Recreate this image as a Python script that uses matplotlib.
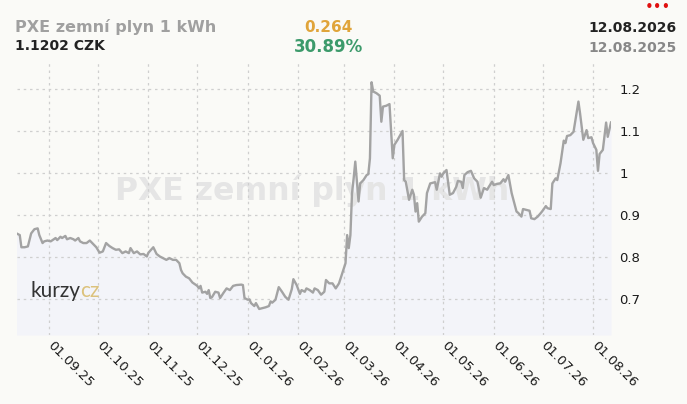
import numpy as np
import pandas as pd
import matplotlib
matplotlib.use('Agg')
import matplotlib.pyplot as plt
import matplotlib.dates as mdates
import matplotlib.transforms as mtransforms

# data: days after the first date, price in CZK
start = pd.Timestamp('2025-08-12')
end = pd.Timestamp('2026-08-12')
days = [0, 2, 3, 5, 7, 9, 11, 13, 14, 16, 17, 19, 21, 24, 25, 27, 28, 30, 31, 33,
        35, 36, 38, 39, 41, 43, 45, 47, 49, 51, 53, 55, 57, 59, 61, 63, 65, 67, 69, 70,
        72, 74, 76, 78, 80, 81, 84, 86, 88, 90, 92, 94, 96, 98, 100, 101, 102, 104, 106, 108,
        111, 112, 113, 114, 116, 117, 118, 119, 120, 122, 124, 125, 127, 129, 131, 133, 135, 138, 139, 140,
        142, 143, 144, 146, 147, 149, 151, 153, 155, 156, 157, 159, 161, 163, 165, 167, 169, 170, 172, 174,
        175, 177, 178, 180, 182, 183, 185, 187, 189, 190, 192, 194, 196, 198, 200, 202, 203, 204, 205, 206,
        207, 208, 210, 211, 213, 215, 216, 217, 218, 219, 221, 223, 224, 225, 227, 229, 231, 232, 234, 237,
        238, 239, 241, 243, 244, 245, 246, 247, 249, 251, 252, 254, 257, 258, 260, 261, 262, 264, 266, 268,
        270, 271, 273, 274, 275, 277, 279, 281, 283, 285, 287, 289, 290, 292, 293, 295, 297, 299, 300, 302,
        304, 307, 308, 310, 311, 313, 315, 316, 318, 320, 322, 323, 325, 326, 328, 329, 331, 332, 334, 336,
        337, 338, 340, 342, 345, 346, 348, 350, 351, 353, 354, 356, 357, 358, 360, 362, 363, 365]
prices = [0.856, 0.852, 0.823, 0.823, 0.825, 0.856, 0.866, 0.868, 0.852, 0.833, 0.837, 0.839, 0.837, 0.845, 0.840, 0.848, 0.845, 0.850, 0.842, 0.845,
          0.842, 0.839, 0.845, 0.837, 0.833, 0.833, 0.839, 0.831, 0.823, 0.810, 0.813, 0.833, 0.826, 0.821, 0.817, 0.818, 0.809, 0.813, 0.809, 0.821,
          0.809, 0.813, 0.806, 0.807, 0.801, 0.810, 0.823, 0.807, 0.801, 0.797, 0.793, 0.797, 0.793, 0.793, 0.785, 0.769, 0.761, 0.753, 0.749, 0.739,
          0.731, 0.725, 0.731, 0.715, 0.717, 0.712, 0.721, 0.702, 0.704, 0.717, 0.715, 0.702, 0.714, 0.725, 0.721, 0.731, 0.733, 0.734, 0.733, 0.702,
          0.698, 0.699, 0.690, 0.683, 0.690, 0.676, 0.678, 0.680, 0.683, 0.694, 0.691, 0.698, 0.728, 0.717, 0.705, 0.698, 0.723, 0.747, 0.733, 0.712,
          0.721, 0.717, 0.725, 0.721, 0.715, 0.725, 0.721, 0.710, 0.717, 0.745, 0.737, 0.737, 0.725, 0.737, 0.761, 0.785, 0.852, 0.821, 0.852, 0.952,
          0.987, 1.027, 0.932, 0.975, 0.983, 0.995, 0.997, 1.035, 1.216, 1.194, 1.190, 1.184, 1.122, 1.158, 1.160, 1.164, 1.035, 1.067, 1.079, 1.100,
          0.983, 0.979, 0.936, 0.960, 0.948, 0.908, 0.928, 0.884, 0.896, 0.904, 0.952, 0.975, 0.978, 0.960, 0.999, 0.991, 0.999, 1.007, 0.948, 0.952,
          0.967, 0.981, 0.979, 0.964, 0.995, 1.002, 1.005, 0.987, 0.979, 0.941, 0.964, 0.960, 0.967, 0.979, 0.971, 0.974, 0.975, 0.985, 0.979, 0.995,
          0.952, 0.908, 0.905, 0.896, 0.914, 0.912, 0.910, 0.892, 0.890, 0.896, 0.905, 0.910, 0.921, 0.916, 0.914, 0.975, 0.987, 0.983, 1.023, 1.077,
          1.071, 1.088, 1.090, 1.098, 1.170, 1.142, 1.079, 1.102, 1.083, 1.085, 1.071, 1.055, 1.005, 1.045, 1.055, 1.120, 1.086, 1.1202]

title = 'PXE zemní plyn 1 kWh'
last_price = '1.1202 CZK'
change_abs = '0.264'
change_pct = '30.89%'
yticks = [0.7, 0.8, 0.9, 1.0, 1.1, 1.2]
ytick_labels = ['0.7', '0.8', '0.9', '1', '1.1', '1.2']
month_ticks = pd.date_range('2025-09-01', '2026-08-01', freq='MS')

dates = start + pd.to_timedelta(days, unit='D')

bg = '#fafaf7'
W, H = 687, 404
fig = plt.figure(figsize=(W / 100, H / 100), dpi=100, facecolor=bg)
ax = fig.add_axes([16.5 / W, 1 - 335 / H, 594.5 / W, 275 / H])
ax.set_facecolor(bg)

ymin, ymax = 0.614, 1.269
ax.set_xlim(start, end)
ax.set_ylim(ymin, ymax)

ax.fill_between(dates, prices, ymin, color='#f3f4f9', lw=0, zorder=1)

# watermark
ax.text(0.497, 0.491, title, transform=ax.transAxes, ha='center', va='baseline',
        fontsize=22.7, fontweight='bold', color='#e5e5e5', zorder=1.5)

ax.plot(dates, prices, color='#a3a3a3', lw=1.7, zorder=3)

ax.set_xticks(month_ticks)
ax.xaxis.set_major_formatter(mdates.DateFormatter('%d.%m.%y'))
ax.set_yticks(yticks)
ax.set_yticklabels(ytick_labels)
ax.yaxis.tick_right()

ax.set_axisbelow(False)
ax.grid(True, color='#cfcfcf', lw=0.9, linestyle=(0, (2, 3)))
for s in ax.spines.values():
    s.set_visible(False)
ax.tick_params(axis='both', length=0, labelsize=9.5, colors='#1a1a1a')
ax.tick_params(axis='y', pad=6)
ax.tick_params(axis='x', pad=3)
shift = mtransforms.ScaledTranslation(5 / 100, 0, fig.dpi_scale_trans)
for lab in ax.get_xticklabels():
    lab.set_rotation(-45)
    lab.set_ha('left')
    lab.set_va('top')
    lab.set_rotation_mode('anchor')
    lab.set_transform(lab.get_transform() + shift)

# logo, "cz" placed right after "kurzy"
logo1 = fig.text(30 / W, 1 - 297 / H, 'kurzy', fontsize=15, family='Lato',
                 color='#333333', va='baseline')
renderer = fig.canvas.get_renderer()
x_end = logo1.get_window_extent(renderer).x1
fig.text((x_end + 0.5) / W, 1 - 297 / H, 'cz', fontsize=15, family='Lato',
         color='#dcc27c', va='baseline')

# header
fig.text(15 / W, 1 - 27 / H, title, fontsize=11.5, fontweight='bold', color='#a0a0a0', va='center')
fig.text(15 / W, 1 - 46 / H, last_price, fontsize=10, fontweight='bold', color='#222222', va='center')
fig.text(328 / W, 1 - 27.5 / H, change_abs, fontsize=11, fontweight='bold', color='#e0a43a',
         va='center', ha='center')
fig.text(328.5 / W, 1 - 47 / H, change_pct, fontsize=12, fontweight='bold', color='#3c9a6b',
         va='center', ha='center')
fig.text(677 / W, 1 - 28 / H, end.strftime('%d.%m.%Y'), fontsize=10, fontweight='bold',
         color='#222222', va='center', ha='right')
fig.text(677 / W, 1 - 47.5 / H, start.strftime('%d.%m.%Y'), fontsize=10, fontweight='bold',
         color='#888888', va='center', ha='right')
fig.text(671 / W, 1 - 7 / H, '•••', fontsize=10.5, color='#e01010', va='center', ha='right')

fig.savefig('out.png', dpi=100, facecolor=bg)
